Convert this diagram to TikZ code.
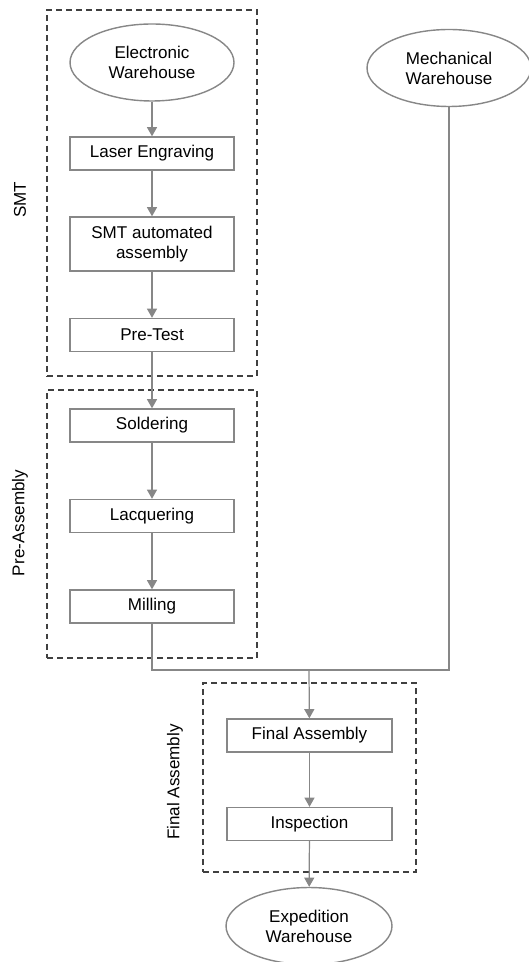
\documentclass[tikz,border=0pt]{standalone}
\usepackage{fontspec}
\setmainfont{Liberation Sans}
\usetikzlibrary{shapes, arrows.meta}

\begin{document}
\begin{tikzpicture}[x=0.02cm, y=-0.02cm, >={Triangle[width=5.7pt,length=5.2pt]}, font=\fontsize{9.7}{11.4}\selectfont]

\tikzstyle{block} = [draw=black!47, shape=rectangle, minimum width=3.28cm, minimum height=0.66cm, align=center, line width=0.8pt, inner sep=0pt]
\tikzstyle{store} = [draw=black!47, shape=ellipse, minimum width=3.28cm, minimum height=1.54cm, align=center, line width=0.8pt, inner sep=0pt]
\tikzstyle{group} = [draw=black!75, shape=rectangle, dash pattern=on 3.4pt off 2.3pt, line width=1.1pt, inner sep=0pt]
\tikzstyle{flow} = [draw=black!47, line width=0.7pt]

\useasboundingbox (0,0) rectangle (528,962);

% process groups
\node [group, minimum width=4.2cm, minimum height=7.32cm] (smtgroup) at (152,193) {};
\node [group, minimum width=4.2cm, minimum height=5.36cm] (pregroup) at (152,524) {};
\node [group, minimum width=4.26cm, minimum height=3.78cm] (finalgroup) at (309.5,777.5) {};

\node [rotate=90] (smtlabel) at (20,200) {SMT};
\node [rotate=90] (prelabel) at (20,523) {Pre-Assembly};
\node [rotate=90] (finallabel) at (175,782) {Final Assembly};

% warehouses
\node [store] (ew) at (152,62.5) {Electronic\\Warehouse};
\node [store] (mw) at (449,68) {Mechanical\\Warehouse};
\node [store, minimum width=3.32cm] (xw) at (309,926) {Expedition\\Warehouse};

% steps
\node [block] (laser) at (152,153.5) {Laser Engraving};
\node [block, minimum height=1.08cm] (smt) at (152,244) {SMT automated\\assembly};
\node [block] (pretest) at (152,335) {Pre-Test};
\node [block] (solder) at (152,425.5) {Soldering};
\node [block] (lacquer) at (152,516) {Lacquering};
\node [block] (mill) at (152,606.5) {Milling};
\node [block, minimum width=3.3cm] (final) at (309.5,735.5) {Final Assembly};
\node [block, minimum width=3.3cm] (inspect) at (309.5,824) {Inspection};

\coordinate (merge) at (309,670);

\begin{scope}[flow]
     \draw[->] (ew) -- (laser);
     \draw[->] (laser) -- (smt);
     \draw[->] (smt) -- (pretest);
     \draw[->] (pretest) -- (solder);
     \draw[->] (solder) -- (lacquer);
     \draw[->] (lacquer) -- (mill);
     \draw (mill) |- (merge);
     \draw (mw) |- (merge);
     \draw[->] (merge) -- (final);
     \draw[->] (final) -- (inspect);
     \draw[->] (inspect) -- (xw);
\end{scope}
\end{tikzpicture}
\end{document}
